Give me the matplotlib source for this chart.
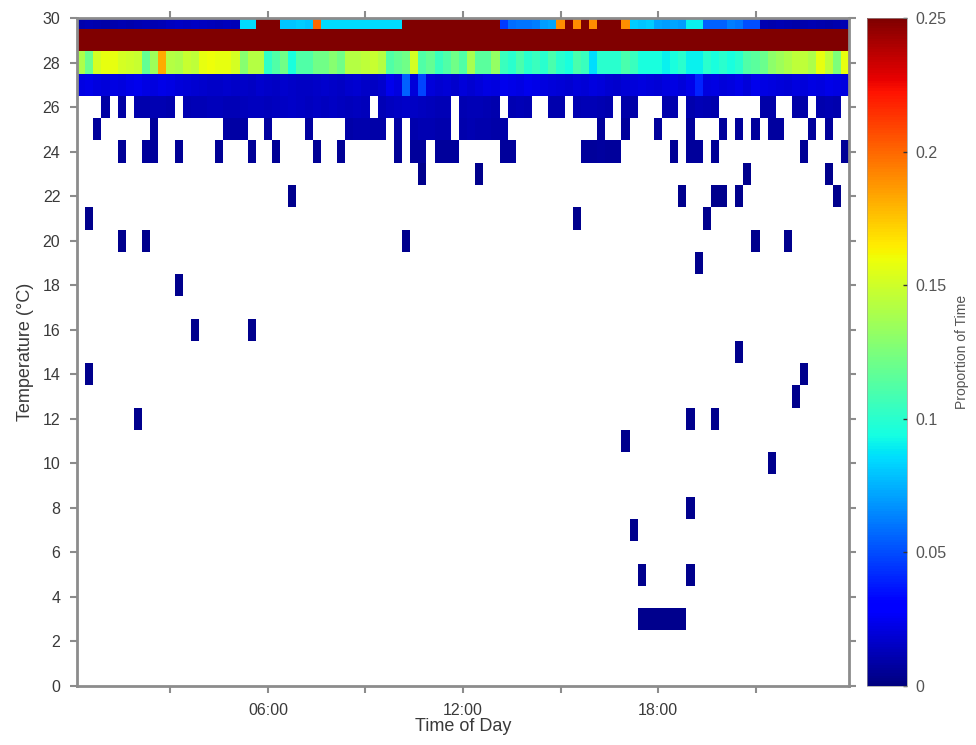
import numpy as np
import matplotlib.pyplot as plt

plt.rcParams['font.family'] = ['Liberation Sans', 'DejaVu Sans']

# 15 minute bins, cell edges in hours of day
n_bins = 95
time_edges = 0.125 + 0.25 * np.arange(n_bins + 1)
temp_edges = np.arange(-0.5, 31.0, 1.0)

x_ticks = [3, 6, 9, 12, 15, 18, 21]
x_labels = ['', '06:00', '', '12:00', '', '18:00', '']
y_ticks = list(range(0, 31, 2))
cbar_ticks = [0, 0.05, 0.1, 0.15, 0.2, 0.25]
cbar_labels = ['0', '0.05', '0.1', '0.15', '0.2', '0.25']

row30 = [0.010, 0.011, 0.010, 0.009, 0.010, 0.011, 0.010, 0.011, 0.012, 0.011,
         0.012, 0.014, 0.015, 0.014, 0.015, 0.014, 0.013, 0.012, 0.013, 0.012,
         0.085, 0.085, 0.30, 0.30, 0.30, 0.080, 0.080, 0.082, 0.080, 0.200,
         0.085, 0.085, 0.085, 0.085, 0.085, 0.085, 0.085, 0.085, 0.085, 0.085,
         0.30, 0.30, 0.30, 0.30, 0.30, 0.30, 0.30, 0.30, 0.30, 0.30,
         0.30, 0.30, 0.045, 0.058, 0.060, 0.060, 0.062, 0.070, 0.072, 0.190,
         0.30, 0.190, 0.30, 0.190, 0.30, 0.30, 0.30, 0.190, 0.082, 0.080,
         0.082, 0.072, 0.070, 0.072, 0.070, 0.090, 0.090, 0.055, 0.055, 0.055,
         0.062, 0.060, 0.050, 0.050, 0.011, 0.010, 0.011, 0.010, 0.009, 0.010,
         0.011, 0.010, 0.009, 0.010, 0.011]

row29 = [0.30, 0.31, 0.30, 0.32, 0.30, 0.31, 0.30, 0.30, 0.31, 0.30,
         0.30, 0.31, 0.30, 0.32, 0.30, 0.31, 0.30, 0.30, 0.31, 0.30,
         0.30, 0.31, 0.30, 0.32, 0.30, 0.31, 0.30, 0.30, 0.31, 0.30,
         0.30, 0.31, 0.30, 0.32, 0.30, 0.31, 0.30, 0.30, 0.31, 0.30,
         0.30, 0.31, 0.30, 0.32, 0.30, 0.31, 0.30, 0.30, 0.31, 0.30,
         0.30, 0.31, 0.30, 0.32, 0.30, 0.31, 0.30, 0.30, 0.31, 0.30,
         0.30, 0.31, 0.30, 0.32, 0.30, 0.31, 0.30, 0.30, 0.31, 0.30,
         0.30, 0.31, 0.30, 0.32, 0.30, 0.31, 0.30, 0.30, 0.31, 0.30,
         0.30, 0.31, 0.30, 0.32, 0.30, 0.31, 0.30, 0.30, 0.31, 0.30,
         0.30, 0.31, 0.30, 0.32, 0.30]

row28 = [0.140, 0.120, 0.152, 0.158, 0.158, 0.152, 0.150, 0.148, 0.118, 0.135,
         0.182, 0.142, 0.140, 0.148, 0.145, 0.158, 0.160, 0.158, 0.158, 0.152,
         0.128, 0.142, 0.142, 0.102, 0.112, 0.122, 0.095, 0.112, 0.112, 0.122,
         0.122, 0.128, 0.122, 0.142, 0.142, 0.145, 0.148, 0.142, 0.112, 0.118,
         0.122, 0.152, 0.112, 0.118, 0.105, 0.112, 0.122, 0.112, 0.138, 0.115,
         0.115, 0.132, 0.105, 0.100, 0.110, 0.100, 0.105, 0.100, 0.110, 0.100,
         0.095, 0.110, 0.105, 0.085, 0.100, 0.100, 0.100, 0.110, 0.105, 0.095,
         0.095, 0.095, 0.090, 0.095, 0.100, 0.090, 0.090, 0.100, 0.095, 0.100,
         0.095, 0.100, 0.112, 0.115, 0.120, 0.130, 0.135, 0.140, 0.145, 0.145,
         0.140, 0.158, 0.145, 0.125, 0.158]

row27 = [0.022, 0.023, 0.021, 0.020, 0.022, 0.021, 0.023, 0.024, 0.022, 0.021,
         0.023, 0.022, 0.020, 0.019, 0.018, 0.017, 0.016, 0.016, 0.017, 0.016,
         0.016, 0.015, 0.017, 0.016, 0.015, 0.017, 0.016, 0.015, 0.015, 0.016,
         0.017, 0.016, 0.015, 0.017, 0.018, 0.016, 0.015, 0.017, 0.024, 0.021,
         0.055, 0.020, 0.048, 0.020, 0.018, 0.019, 0.017, 0.020, 0.018, 0.020,
         0.022, 0.021, 0.024, 0.023, 0.022, 0.024, 0.023, 0.021, 0.020, 0.019,
         0.018, 0.020, 0.019, 0.021, 0.020, 0.018, 0.017, 0.019, 0.020, 0.021,
         0.020, 0.019, 0.021, 0.022, 0.020, 0.023, 0.040, 0.021, 0.022, 0.020,
         0.021, 0.023, 0.020, 0.024, 0.022, 0.021, 0.020, 0.019, 0.021, 0.020,
         0.022, 0.021, 0.023, 0.022, 0.021]

row26 = [0, 0, 0, 0.008, 0, 0.008, 0, 0.010, 0.010, 0.011,
         0.011, 0.010, 0, 0.011, 0.012, 0.012, 0.013, 0.013, 0.012, 0.012,
         0.013, 0.014, 0.014, 0.013, 0.014, 0.015, 0.016, 0.015, 0.014, 0.015,
         0.014, 0.015, 0.014, 0.013, 0.014, 0.013, 0, 0.012, 0.014, 0.015,
         0.016, 0.015, 0.014, 0.013, 0.012, 0.012, 0, 0.011, 0.012, 0.012,
         0.011, 0.010, 0, 0.011, 0.012, 0.011, 0, 0, 0.010, 0.010,
         0, 0.011, 0.012, 0.012, 0.011, 0.010, 0, 0.009, 0.009, 0,
         0, 0, 0.010, 0.010, 0, 0.010, 0.012, 0.011, 0.010, 0,
         0, 0, 0, 0, 0.009, 0.009, 0, 0, 0.009, 0.009,
         0, 0.010, 0.011, 0.010, 0]

row25 = [0, 0, 0.006, 0, 0, 0, 0, 0, 0, 0.006,
         0, 0, 0, 0, 0, 0, 0, 0, 0.008, 0.008,
         0.008, 0, 0, 0.007, 0, 0, 0, 0, 0.007, 0,
         0, 0, 0, 0.009, 0.010, 0.010, 0.009, 0.009, 0, 0.008,
         0, 0.010, 0.011, 0.011, 0.010, 0.010, 0, 0.010, 0.011, 0.010,
         0.010, 0.009, 0.009, 0, 0, 0, 0, 0, 0, 0,
         0, 0, 0, 0, 0.006, 0, 0, 0.006, 0, 0,
         0, 0.006, 0, 0, 0, 0.006, 0, 0, 0, 0.006,
         0, 0.006, 0, 0.006, 0, 0.007, 0.007, 0, 0, 0,
         0.006, 0, 0.006, 0, 0]

row24 = [0, 0, 0, 0, 0, 0.005, 0, 0, 0.006, 0.006,
         0, 0, 0.005, 0, 0, 0, 0, 0.005, 0, 0,
         0, 0.005, 0, 0, 0.005, 0, 0, 0, 0, 0.005,
         0, 0, 0.005, 0, 0, 0, 0, 0, 0, 0.005,
         0, 0.006, 0.006, 0, 0.006, 0.006, 0.006, 0, 0, 0,
         0, 0, 0.006, 0.006, 0, 0, 0, 0, 0, 0,
         0, 0, 0.006, 0.006, 0.007, 0.006, 0.006, 0, 0, 0,
         0, 0, 0, 0.005, 0, 0.006, 0.006, 0, 0.005, 0,
         0, 0, 0, 0, 0, 0, 0, 0, 0, 0.005,
         0, 0, 0, 0, 0.005]

# isolated low temperature readings: (temperature, time bins)
sparse_temps = [23, 22, 21, 20, 19, 18, 16, 15, 14, 13, 12, 11, 10, 8, 7, 5, 3]
sparse_bins = [[42, 49, 82, 92],
               [26, 74, 78, 79, 81, 93],
               [1, 61, 77],
               [5, 8, 40, 83, 87],
               [76],
               [12],
               [14, 21],
               [81],
               [1, 89],
               [88],
               [7, 75, 78],
               [67],
               [85],
               [75],
               [68],
               [69, 75],
               [69, 70, 71, 72, 73, 74]]
sparse_value = 0.003

grid = np.zeros((31, n_bins))
grid[30] = row30
grid[29] = row29
grid[28] = row28
grid[27] = row27
grid[26] = row26
grid[25] = row25
grid[24] = row24
for t, bins in zip(sparse_temps, sparse_bins):
    for b in bins:
        grid[t, b] = sparse_value
data = np.ma.masked_equal(grid, 0)

cmap = plt.get_cmap('jet').copy()
cmap.set_bad('white')

size = 976, 745
fig = plt.figure(figsize=(size[0] / 100.0, size[1] / 100.0), dpi=100, facecolor='white')
ax = fig.add_axes([77 / 976, 1 - 686 / 745, 772 / 976, 668 / 745])
mesh = ax.pcolormesh(time_edges, temp_edges, data, cmap=cmap, vmin=0, vmax=0.25)

ax.set_xlim(time_edges[0], time_edges[-1])
ax.set_ylim(0, 30)
ax.set_xticks(x_ticks)
ax.set_xticklabels(x_labels)
ax.set_yticks(y_ticks)

grey = '#8c8c8c'
text_col = '#3a3a3a'
for s in ax.spines.values():
    s.set_color(grey)
    s.set_linewidth(2)
ax.tick_params(direction='out', length=5, width=1.5, color=grey, labelcolor=text_col,
               labelsize=11.5, top=True, right=True, pad=7)
ax.set_xlabel('Time of Day', fontsize=13, color=text_col, labelpad=0)
ax.set_ylabel('Temperature (\u00b0C)', fontsize=13, color=text_col, labelpad=6)

cax = fig.add_axes([867 / 976, 1 - 686 / 745, 40 / 976, 668 / 745])
cb = fig.colorbar(mesh, cax=cax, ticks=cbar_ticks)
cb.ax.set_yticklabels(cbar_labels)
cb.ax.tick_params(direction='in', length=3, width=1, color='#333333', labelcolor='#555555',
                  labelsize=11.5, pad=6)
cb.outline.set_edgecolor('#999999')
cb.outline.set_linewidth(0.5)
cb.set_label('Proportion of Time', fontsize=10, color='#555555', labelpad=6)

fig.savefig('out.png', dpi=100)
